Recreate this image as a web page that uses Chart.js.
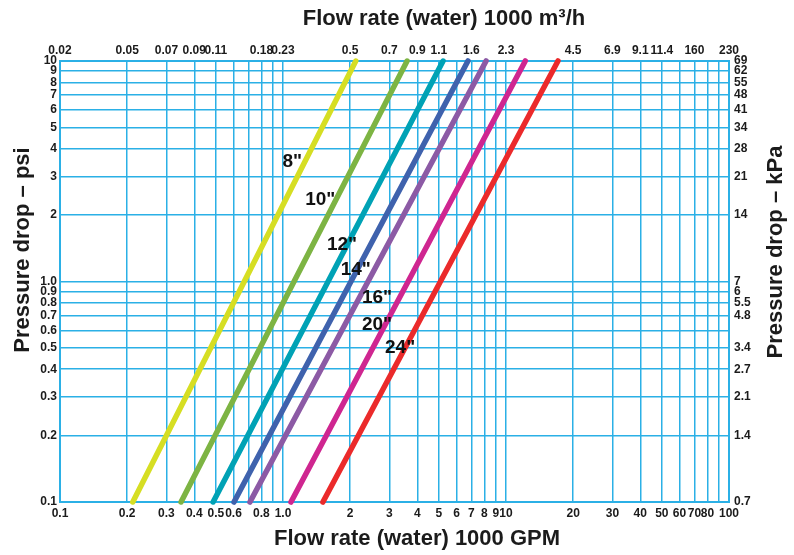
<!DOCTYPE html>
<html>
<head>
<meta charset="utf-8">
<script src="https://cdn.jsdelivr.net/npm/chart.js@4.4.1/dist/chart.umd.min.js"></script>
<style>
  html, body { margin: 0; padding: 0; background: #fff; }
  #wrap { width: 794px; height: 555px; position: relative; }
</style>
</head>
<body>
<div id="wrap"><canvas id="chart"></canvas></div>
<script>
// pipe sizes and their pressure-drop lines (x = 1000 GPM, y = psi)
const sizes = ['8"', '10"', '12"', '14"', '16"', '20"', '24"'];
const colors = ['#d6de23', '#7db443', '#00a2b5', '#3f62ad', '#8c5aa5', '#cf2690', '#eb2a2b'];
const psiEnds = [0.1, 10];
const flow8 = [0.212, 2.12];
const flow10 = [0.349, 3.6];
const flow12 = [0.486, 5.22];
const flow14 = [0.603, 6.75];
const flow16 = [0.711, 8.14];
const flow20 = [1.086, 12.2];
const flow24 = [1.51, 17.1];
const flows = [flow8, flow10, flow12, flow14, flow16, flow20, flow24];

// where the size labels sit (data coords)
const labelFlow = [1.1, 1.47, 1.84, 2.12, 2.64, 2.64, 3.35];
const labelPsi = [3.48, 2.34, 1.46, 1.13, 0.84, 0.635, 0.5];

// bottom axis: 1000 GPM
const gpmTicks = [0.1, 0.2, 0.3, 0.4, 0.5, 0.6, 0.7, 0.8, 0.9, 1, 2, 3, 4, 5, 6, 7, 8, 9, 10,
  20, 30, 40, 50, 60, 70, 80, 90, 100];
const gpmLabels = ['0.1', '0.2', '0.3', '0.4', '0.5', '0.6', '', '0.8', '', '1.0', '2', '3', '4', '5', '6', '7', '8', '9', '10',
  '20', '30', '40', '50', '60', '70', '80', '', '100'];

// top axis: 1000 m3/h, placed at the matching GPM values
const m3Ticks = [0.1, 0.2, 0.3, 0.4, 0.5, 0.8, 1, 2, 3, 4, 5, 7, 10, 20, 30, 40, 50, 70, 100];
const m3Labels = ['0.02', '0.05', '0.07', '0.09', '0.11', '0.18', '0.23', '0.5', '0.7', '0.9', '1.1', '1.6', '2.3',
  '4.5', '6.9', '9.1', '11.4', '160', '230'];

// left axis: psi
const psiTicks = [0.1, 0.2, 0.3, 0.4, 0.5, 0.6, 0.7, 0.8, 0.9, 1, 2, 3, 4, 5, 6, 7, 8, 9, 10];
const psiLabels = ['0.1', '0.2', '0.3', '0.4', '0.5', '0.6', '0.7', '0.8', '0.9', '1.0', '2', '3', '4', '5', '6', '7', '8', '9', '10'];

// right axis: kPa at the same psi values
const kpaLabels = ['0.7', '1.4', '2.1', '2.7', '3.4', '', '4.8', '5.5', '6', '7', '14', '21', '28', '34', '41', '48', '55', '62', '69'];

const GRID = '#2bb0e6';
const TEXT = '#1b1b1b';
const FONT = '"Liberation Sans", Arial, sans-serif';

const datasets = sizes.map((s, i) => ({
  label: s,
  data: flows[i].map((x, k) => ({ x: x, y: psiEnds[k] })),
  borderColor: colors[i],
  backgroundColor: colors[i],
  borderWidth: 5.5,
  borderCapStyle: 'round',
  pointRadius: 0,
  showLine: true,
  clip: false
}));

function setTicks(values) {
  return (axis) => { axis.ticks = values.map(v => ({ value: v })); };
}

const tickFont = { family: FONT, size: 12, weight: 'bold' };

const sizeLabels = {
  id: 'sizeLabels',
  afterDatasetsDraw(chart) {
    const { ctx, scales } = chart;
    ctx.save();
    ctx.font = 'bold 19px ' + FONT;
    ctx.fillStyle = '#111';
    ctx.textAlign = 'center';
    ctx.textBaseline = 'middle';
    sizes.forEach((s, i) => {
      ctx.fillText(s, scales.x.getPixelForValue(labelFlow[i]), scales.y.getPixelForValue(labelPsi[i]));
    });
    ctx.restore();
  }
};

function drawTitle(ctx, text, x, y, rotate) {
  ctx.save();
  ctx.font = 'bold 22px ' + FONT;
  ctx.fillStyle = TEXT;
  ctx.textAlign = 'center';
  ctx.textBaseline = 'middle';
  ctx.translate(x, y);
  if (rotate) ctx.rotate(-Math.PI / 2);
  ctx.fillText(text, 0, 0);
  ctx.restore();
}

const axisTitles = {
  id: 'axisTitles',
  afterDraw(chart) {
    const ctx = chart.ctx;
    drawTitle(ctx, 'Flow rate (water) 1000 m³/h', 444, 19, false);
    drawTitle(ctx, 'Flow rate (water) 1000 GPM', 417, 539, false);
    drawTitle(ctx, 'Pressure drop – psi', 23, 250, true);
    drawTitle(ctx, 'Pressure drop – kPa', 776, 252, true);
  }
};

new Chart(document.getElementById('chart'), {
  type: 'scatter',
  data: { datasets },
  options: {
    responsive: true,
    maintainAspectRatio: false,
    animation: false,
    layout: { padding: 0 },
    plugins: {
      legend: { display: false },
      tooltip: { enabled: false }
    },
    scales: {
      x: {
        type: 'logarithmic',
        position: 'bottom',
        min: 0.1,
        max: 100,
        afterBuildTicks: setTicks(gpmTicks),
        afterFit: (s) => { s.height = 53; },
        grid: { color: GRID, lineWidth: 1.5, drawTicks: false },
        border: { color: GRID, width: 2 },
        ticks: {
          autoSkip: false, maxRotation: 0, padding: 4, color: TEXT, font: tickFont,
          callback: (v, i) => gpmLabels[i]
        }
      },
      x2: {
        type: 'logarithmic',
        position: 'top',
        min: 0.1,
        max: 100,
        afterBuildTicks: setTicks(m3Ticks),
        afterFit: (s) => { s.height = 61; },
        grid: { display: false, drawTicks: false },
        border: { color: GRID, width: 2 },
        ticks: {
          autoSkip: false, maxRotation: 0, padding: 3, color: TEXT, font: tickFont,
          callback: (v, i) => m3Labels[i]
        }
      },
      y: {
        type: 'logarithmic',
        position: 'left',
        min: 0.1,
        max: 10,
        afterBuildTicks: setTicks(psiTicks),
        afterFit: (s) => { s.width = 60; },
        grid: { color: GRID, lineWidth: 1.5, drawTicks: false },
        border: { color: GRID, width: 2 },
        ticks: {
          autoSkip: false, padding: 3, color: TEXT, font: tickFont,
          callback: (v, i) => psiLabels[i]
        }
      },
      y2: {
        type: 'logarithmic',
        position: 'right',
        min: 0.1,
        max: 10,
        afterBuildTicks: setTicks(psiTicks),
        afterFit: (s) => { s.width = 65; },
        grid: { display: false, drawTicks: false },
        border: { color: GRID, width: 2 },
        ticks: {
          autoSkip: false, padding: 5, color: TEXT, font: tickFont,
          callback: (v, i) => kpaLabels[i]
        }
      }
    }
  },
  plugins: [sizeLabels, axisTitles]
});
</script>
</body>
</html>
